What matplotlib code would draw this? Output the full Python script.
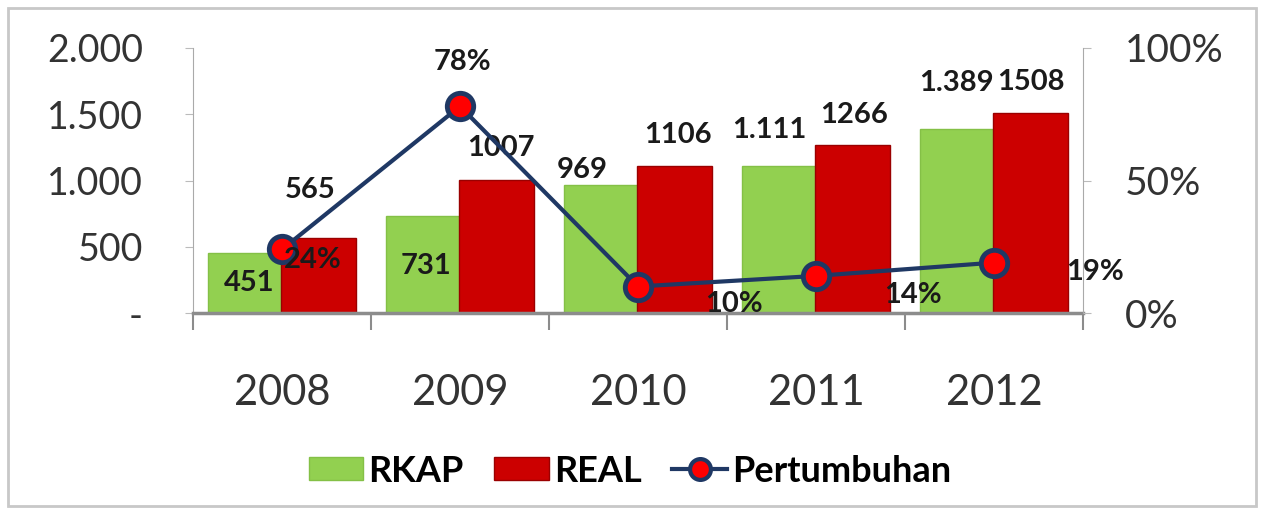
import matplotlib.pyplot as plt
import numpy as np
from matplotlib.patches import Patch, Rectangle
from matplotlib.lines import Line2D

years = ['2008', '2009', '2010', '2011', '2012']
rkap = [451, 731, 969, 1111, 1389]
real = [565, 1007, 1106, 1266, 1508]
growth = [0.24, 0.78, 0.10, 0.14, 0.19]

rkap_text = ['451', '731', '969', '1.111', '1.389']
real_text = ['565', '1007', '1106', '1266', '1508']
growth_text = ['24%', '78%', '10%', '14%', '19%']

# label offsets in pixels from the top of each bar / each marker
rkap_off = [(4, -30), (2, -50), (-19, 15), (-10, 36), (-1, 46)]
real_off = [(-8, 48), (4, 32), (3, 31), (2, 30), (0, 31)]
growth_off = [(31, -11), (2, 44), (96, -18), (97, -19), (101, -9)]

plt.rcParams['font.family'] = ['Lato', 'DejaVu Sans']

green = '#92D050'
red = '#CC0000'
navy = '#1F3864'
grey = '#8C8C8C'
dark = '#1a1a1a'

fig = plt.figure(figsize=(12.64, 5.12), dpi=100)
fig.patches.append(Rectangle((8 / 1264, 6 / 512), 1248 / 1264, 498 / 512,
                             transform=fig.transFigure, fill=False,
                             edgecolor='#C8C8C8', linewidth=2))

ax = fig.add_axes([193 / 1264, 199 / 512, 890 / 1264, 265 / 512])
x = np.arange(len(years))
w = 0.42
ax.bar(x - 0.205, rkap, w, color=green, edgecolor='#84C046', linewidth=1)
ax.bar(x + 0.205, real, w, color=red, edgecolor='#9A0000', linewidth=1)

for i in range(len(years)):
    ax.annotate(rkap_text[i], (x[i] - 0.205, rkap[i]), xytext=rkap_off[i],
                textcoords='offset pixels', ha='center', va='center',
                fontsize=21, fontweight='bold', color=dark)
    ax.annotate(real_text[i], (x[i] + 0.205, real[i]), xytext=real_off[i],
                textcoords='offset pixels', ha='center', va='center',
                fontsize=21, fontweight='bold', color=dark)

ax.set_xlim(-0.5, len(years) - 0.5)
ax.set_ylim(0, 2000)
ax.set_yticks([0, 500, 1000, 1500, 2000])
ax.set_yticklabels(['-', '500', '1.000', '1.500', '2.000'])
ax.set_xticks(np.arange(-0.5, len(years)), labels=[''] * (len(years) + 1))
ax.set_xticks(x, labels=years, minor=True)
ax.tick_params(axis='x', which='major', length=12, color=grey, width=1.5)
ax.tick_params(axis='x', which='minor', length=0, pad=44, labelsize=30,
               labelcolor='#333333')
ax.tick_params(axis='y', length=6, color='#BBBBBB', pad=30, labelsize=27,
               labelcolor='#333333')
ax.spines['top'].set_visible(False)
ax.spines['right'].set_visible(False)
ax.spines['left'].set_color('#AAAAAA')
ax.spines['bottom'].set_color(grey)
ax.spines['bottom'].set_linewidth(2.5)

ax2 = ax.twinx()
ax2.plot(x, growth, color=navy, linewidth=3, marker='o', markersize=19,
         markerfacecolor='#FF0000', markeredgecolor=navy, markeredgewidth=3.5)
for i in range(len(years)):
    ax2.annotate(growth_text[i], (x[i], growth[i]), xytext=growth_off[i],
                 textcoords='offset pixels', ha='center', va='center',
                 fontsize=21, fontweight='bold', color=dark)
ax2.set_ylim(0, 1)
ax2.set_yticks([0, 0.5, 1])
ax2.set_yticklabels(['0%', '50%', '100%'])
ax2.tick_params(axis='y', length=6, color='#BBBBBB', pad=24, labelsize=28,
                labelcolor='#333333')
for s in ['top', 'left', 'bottom']:
    ax2.spines[s].set_visible(False)
ax2.spines['right'].set_color('#AAAAAA')

handles = [Patch(facecolor=green, edgecolor='#84C046'),
           Patch(facecolor=red, edgecolor='#9A0000'),
           Line2D([], [], color=navy, linewidth=3, marker='o', markersize=15,
                  markerfacecolor='#FF0000', markeredgecolor=navy,
                  markeredgewidth=3)]
fig.legend(handles, ['RKAP', 'REAL', 'Pertumbuhan'], loc='center',
           bbox_to_anchor=(630 / 1264, 41 / 512), ncol=3, frameon=False,
           prop={'size': 26, 'weight': 'bold'}, handlelength=1.5,
           handleheight=0.6, handletextpad=0.15, columnspacing=0.85)

fig.savefig('out.png', dpi=100)
